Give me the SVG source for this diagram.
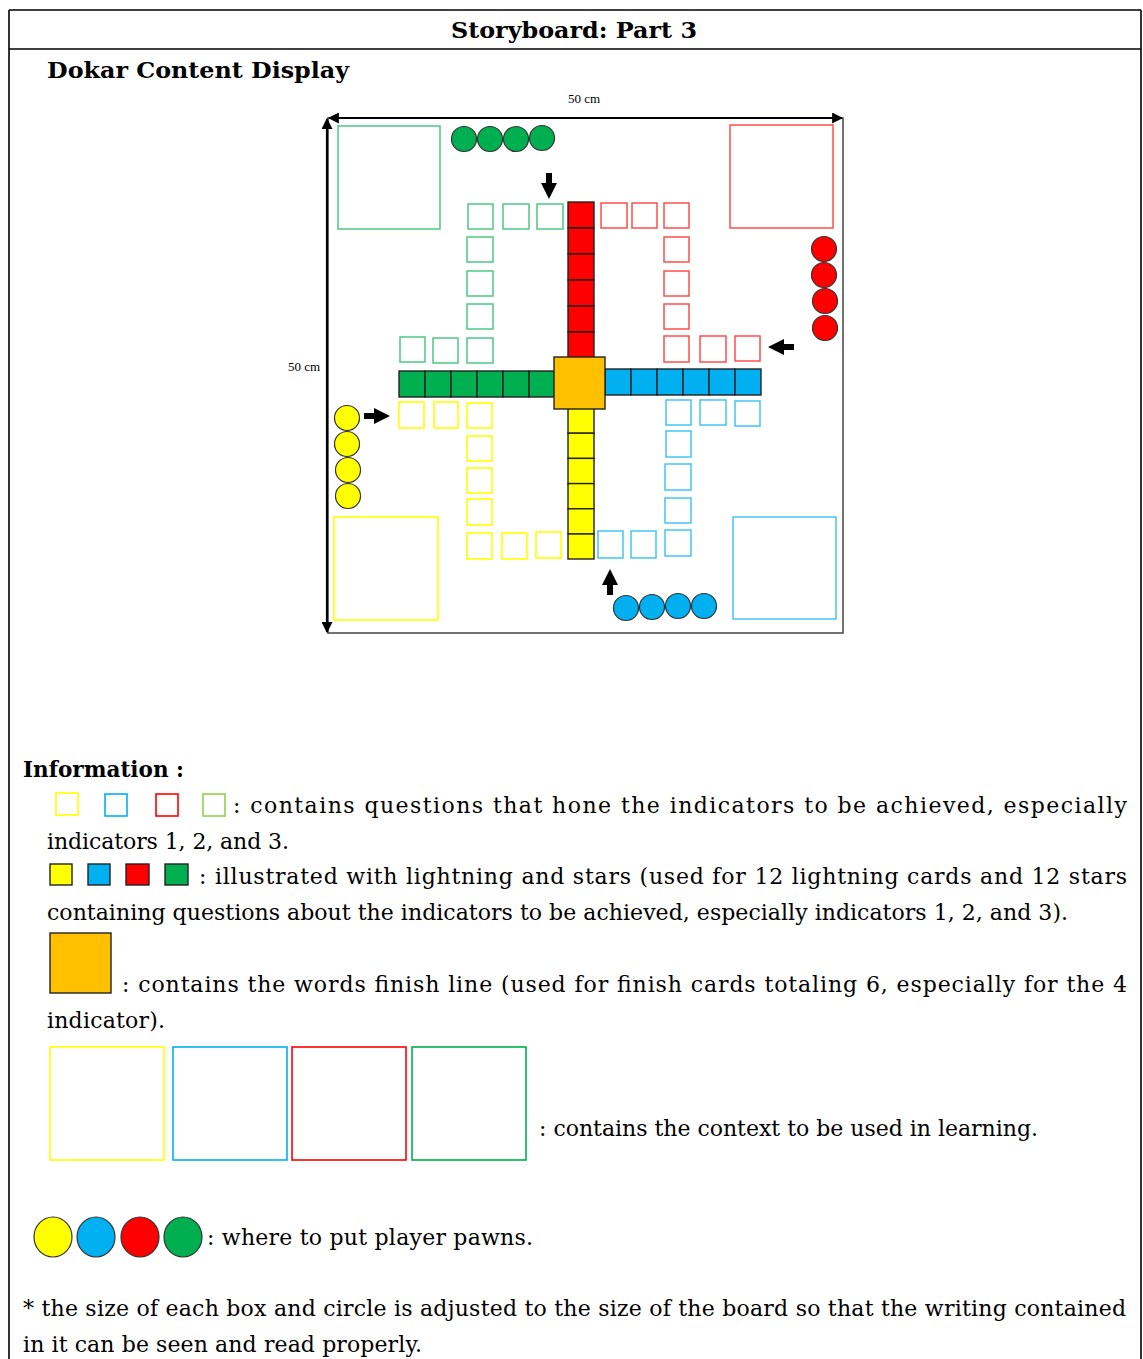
<svg xmlns="http://www.w3.org/2000/svg" width="1143" height="1359" viewBox="0 0 1143 1359">
<defs>
<style>
.t{font-family:"DejaVu Serif","Liberation Serif",serif;font-size:22px;fill:#000}
.b{font-weight:bold}
.s{font-family:"Liberation Serif",serif;font-size:13px;fill:#000}
.fr{fill:none;stroke:#000;stroke-width:1.6}
.cell{stroke:#222;stroke-width:1.4}
.og{fill:none;stroke:#00B050;stroke-width:1.5;stroke-opacity:0.7}
.or{fill:none;stroke:#FF0000;stroke-width:1.5;stroke-opacity:0.7}
.oy{fill:none;stroke:#FFFF00;stroke-width:1.6}
.ob{fill:none;stroke:#00B0F0;stroke-width:1.5;stroke-opacity:0.75}
.pawn{stroke:#333;stroke-width:1.2}
.Y{fill:#FFFF00}.B{fill:#00B0F0}.R{fill:#FF0000}.G{fill:#00B050}.O{fill:#FFC000}
</style>
<marker id="ah" viewBox="0 0 10 10" refX="9" refY="5" markerWidth="5" markerHeight="5" orient="auto-start-reverse">
<path d="M0,0 L10,5 L0,10 z" fill="#000"/>
</marker>
<polygon id="arrowDown" points="-3,-13 3,-13 3,-3 8,-3 0,13 -8,-3 -3,-3" fill="#000"/>
</defs>

<g id="frame">
<line class="fr" x1="9" y1="10" x2="1141" y2="10"/>
<line class="fr" x1="9" y1="10" x2="9" y2="1359"/>
<line class="fr" x1="1141" y1="10" x2="1141" y2="1359"/>
<line class="fr" x1="9" y1="49" x2="1141" y2="49"/>
<text class="t b" x="574" y="38" text-anchor="middle" font-size="24" textLength="246" lengthAdjust="spacingAndGlyphs">Storyboard: Part 3</text>
<text class="t b" x="47" y="78" font-size="24" textLength="302" lengthAdjust="spacingAndGlyphs">Dokar Content Display</text>
</g>

<g id="board">
<rect x="328" y="118" width="515" height="515" fill="#fff" stroke="#444" stroke-width="1.5"/>
<text class="s" x="584" y="103" text-anchor="middle">50 cm</text>
<text class="s" x="304" y="371" text-anchor="middle">50 cm</text>
</g>

<g id="connectors">
<line x1="329" y1="118" x2="842" y2="118" stroke="#000" stroke-width="2.2" marker-start="url(#ah)" marker-end="url(#ah)"/>
<line x1="327" y1="119" x2="327" y2="632" stroke="#000" stroke-width="2.2" marker-start="url(#ah)" marker-end="url(#ah)"/>
<use href="#arrowDown" transform="translate(549,186)"/>
<use href="#arrowDown" transform="translate(781,347) rotate(90)"/>
<use href="#arrowDown" transform="translate(377,416) rotate(-90)"/>
<use href="#arrowDown" transform="translate(610,582) rotate(180)"/>
</g>

<g id="home-bases">
<rect class="og" x="338" y="126" width="102" height="103"/>
<rect class="or" x="730" y="125" width="103" height="103"/>
<rect class="oy" x="334" y="517" width="104" height="103"/>
<rect class="ob" x="733" y="517" width="103" height="102"/>
</g>

<g id="pawns">
<circle class="pawn G" cx="464" cy="139" r="12.5"/>
<circle class="pawn G" cx="490" cy="139" r="12.5"/>
<circle class="pawn G" cx="516" cy="139" r="12.5"/>
<circle class="pawn G" cx="542" cy="138" r="12.5"/>
<circle class="pawn R" cx="824" cy="249" r="12.5"/>
<circle class="pawn R" cx="824" cy="275" r="12.5"/>
<circle class="pawn R" cx="825" cy="301" r="12.5"/>
<circle class="pawn R" cx="825" cy="328" r="12.5"/>
<circle class="pawn Y" cx="347" cy="418" r="12.5"/>
<circle class="pawn Y" cx="347" cy="444" r="12.5"/>
<circle class="pawn Y" cx="348" cy="470" r="12.5"/>
<circle class="pawn Y" cx="348" cy="496" r="12.5"/>
<circle class="pawn B" cx="626" cy="608" r="12.5"/>
<circle class="pawn B" cx="652" cy="607" r="12.5"/>
<circle class="pawn B" cx="678" cy="606" r="12.5"/>
<circle class="pawn B" cx="704" cy="606" r="12.5"/>
</g>

<g id="path-squares">
<rect class="og" x="468" y="204" width="25" height="25"/>
<rect class="og" x="503" y="204" width="26" height="25"/>
<rect class="og" x="537" y="204" width="26" height="25"/>
<rect class="og" x="467" y="237" width="26" height="25"/>
<rect class="og" x="467" y="271" width="26" height="25"/>
<rect class="og" x="467" y="304" width="26" height="25"/>
<rect class="og" x="400" y="337" width="25" height="25"/>
<rect class="og" x="433" y="338" width="25" height="25"/>
<rect class="og" x="467" y="338" width="26" height="25"/>
<rect class="or" x="601" y="203" width="26" height="25"/>
<rect class="or" x="632" y="203" width="25" height="25"/>
<rect class="or" x="664" y="203" width="25" height="25"/>
<rect class="or" x="664" y="237" width="25" height="25"/>
<rect class="or" x="664" y="271" width="25" height="25"/>
<rect class="or" x="664" y="304" width="25" height="25"/>
<rect class="or" x="664" y="336" width="25" height="26"/>
<rect class="or" x="700" y="336" width="26" height="26"/>
<rect class="or" x="735" y="336" width="25" height="25"/>
<rect class="oy" x="399" y="402" width="25" height="26"/>
<rect class="oy" x="434" y="402" width="24" height="26"/>
<rect class="oy" x="467" y="403" width="25" height="25"/>
<rect class="oy" x="467" y="436" width="25" height="25"/>
<rect class="oy" x="467" y="468" width="25" height="25"/>
<rect class="oy" x="467" y="499" width="25" height="26"/>
<rect class="oy" x="467" y="533" width="25" height="26"/>
<rect class="oy" x="502" y="533" width="25" height="26"/>
<rect class="oy" x="536" y="532" width="25" height="26"/>
<rect class="ob" x="666" y="400" width="25" height="25"/>
<rect class="ob" x="700" y="400" width="26" height="25"/>
<rect class="ob" x="735" y="401" width="25" height="25"/>
<rect class="ob" x="666" y="431" width="25" height="26"/>
<rect class="ob" x="665" y="464" width="26" height="26"/>
<rect class="ob" x="665" y="498" width="26" height="25"/>
<rect class="ob" x="665" y="530" width="26" height="26"/>
<rect class="ob" x="598" y="531" width="25" height="27"/>
<rect class="ob" x="631" y="531" width="25" height="27"/>
</g>

<g id="home-columns">
<rect class="cell R" x="568" y="202" width="26" height="26"/>
<rect class="cell R" x="568" y="228" width="26" height="26"/>
<rect class="cell R" x="568" y="254" width="26" height="26"/>
<rect class="cell R" x="568" y="280" width="26" height="26"/>
<rect class="cell R" x="568" y="306" width="26" height="26"/>
<rect class="cell R" x="568" y="332" width="26" height="26"/>
<rect class="cell G" x="399" y="371" width="26" height="26"/>
<rect class="cell G" x="425" y="371" width="26" height="26"/>
<rect class="cell G" x="451" y="371" width="26" height="26"/>
<rect class="cell G" x="477" y="371" width="26" height="26"/>
<rect class="cell G" x="503" y="371" width="26" height="26"/>
<rect class="cell G" x="529" y="371" width="26" height="26"/>
<rect class="cell B" x="605" y="369" width="26" height="26"/>
<rect class="cell B" x="631" y="369" width="26" height="26"/>
<rect class="cell B" x="657" y="369" width="26" height="26"/>
<rect class="cell B" x="683" y="369" width="26" height="26"/>
<rect class="cell B" x="709" y="369" width="26" height="26"/>
<rect class="cell B" x="735" y="369" width="26" height="26"/>
<rect class="cell Y" x="568" y="408" width="26" height="25.2"/>
<rect class="cell Y" x="568" y="433.2" width="26" height="25.2"/>
<rect class="cell Y" x="568" y="458.4" width="26" height="25.2"/>
<rect class="cell Y" x="568" y="483.6" width="26" height="25.2"/>
<rect class="cell Y" x="568" y="508.8" width="26" height="25.2"/>
<rect class="cell Y" x="568" y="534" width="26" height="25"/>
<rect class="cell O" x="554" y="357" width="51" height="52"/>
</g>

<g id="legend">
<text class="t b" x="23" y="777" textLength="161" lengthAdjust="spacingAndGlyphs">Information :</text>
<rect x="56" y="793" width="22" height="22" fill="none" stroke="#FFFF00" stroke-width="1.6"/>
<rect x="105" y="794" width="22" height="22" fill="none" stroke="#00B0F0" stroke-width="1.6"/>
<rect x="156" y="794" width="22" height="22" fill="none" stroke="#FF0000" stroke-width="1.6"/>
<rect x="203" y="794" width="22" height="22" fill="none" stroke="#92D050" stroke-width="1.6"/>
<text class="t" x="233" y="813" textLength="894" lengthAdjust="spacing">: contains questions that hone the indicators to be achieved, especially</text>
<text class="t" x="47" y="849" textLength="242">indicators 1, 2, and 3.</text>
<rect class="cell Y" x="50" y="864" width="22" height="21"/>
<rect class="cell B" x="88" y="864" width="22" height="21"/>
<rect class="cell R" x="126" y="864" width="23" height="21"/>
<rect class="cell G" x="165" y="864" width="23" height="21"/>
<text class="t" x="199" y="884" textLength="928" lengthAdjust="spacing">: illustrated with lightning and stars (used for 12 lightning cards and 12 stars</text>
<text class="t" x="47" y="920" textLength="1021">containing questions about the indicators to be achieved, especially indicators 1, 2, and 3).</text>
<rect class="cell O" x="50" y="933" width="61" height="60"/>
<text class="t" x="122" y="992" textLength="1005" lengthAdjust="spacing">: contains the words finish line (used for finish cards totaling 6, especially for the 4</text>
<text class="t" x="47" y="1028" textLength="118">indicator).</text>
<rect x="50" y="1047" width="114" height="113" fill="none" stroke="#FFFF00" stroke-width="1.6"/>
<rect x="173" y="1047" width="114" height="113" fill="none" stroke="#00B0F0" stroke-width="1.6"/>
<rect x="292" y="1047" width="114" height="113" fill="none" stroke="#FF0000" stroke-width="1.6"/>
<rect x="412" y="1047" width="114" height="113" fill="none" stroke="#00B050" stroke-width="1.6"/>
<text class="t" x="539" y="1136" textLength="499">: contains the context to be used in learning.</text>
<ellipse class="pawn Y" cx="53" cy="1237" rx="19" ry="20" stroke-width="1.6"/>
<ellipse class="pawn B" cx="96" cy="1237" rx="19" ry="20" stroke-width="1.6"/>
<ellipse class="pawn R" cx="140" cy="1237" rx="19" ry="20" stroke-width="1.6"/>
<ellipse class="pawn G" cx="183" cy="1237" rx="19" ry="20" stroke-width="1.6"/>
<text class="t" x="207" y="1245" textLength="326">: where to put player pawns.</text>
<text class="t" x="23" y="1316" textLength="1103" lengthAdjust="spacing">* the size of each box and circle is adjusted to the size of the board so that the writing contained</text>
<text class="t" x="23" y="1352" textLength="399">in it can be seen and read properly.</text>
</g>
</svg>
